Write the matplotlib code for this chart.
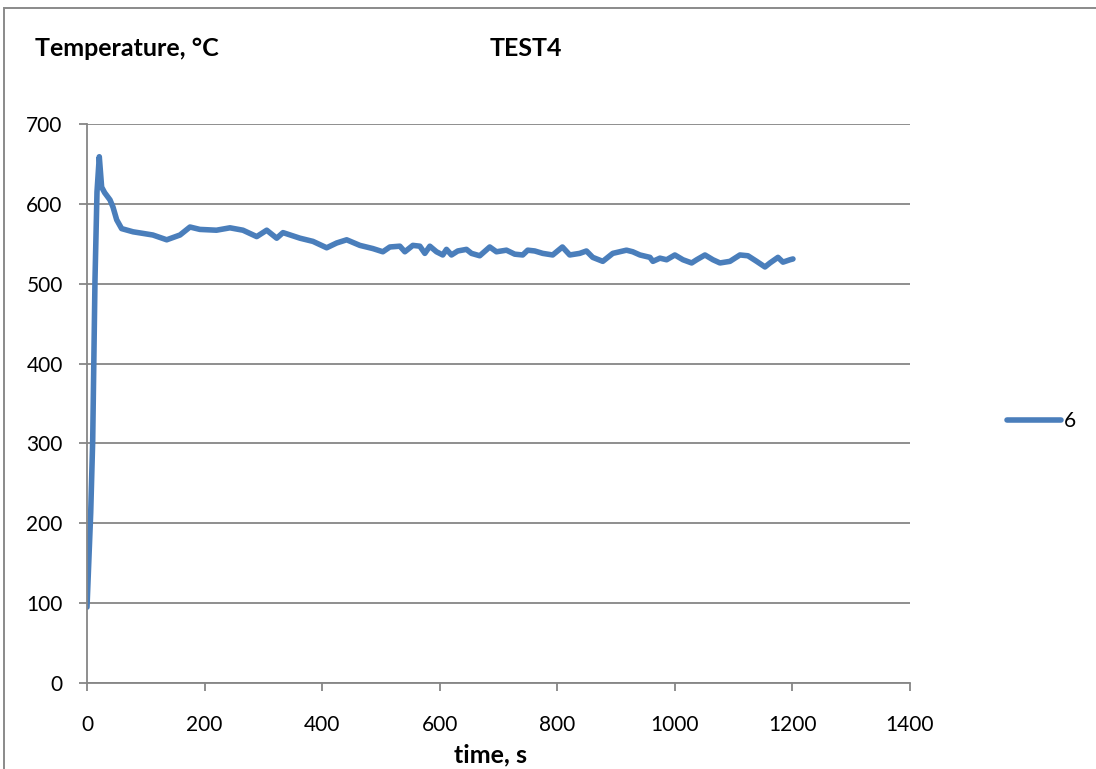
import matplotlib
matplotlib.use("Agg")
import matplotlib.pyplot as plt
from matplotlib.patches import Rectangle

# thermocouple 6, test 4
time_s = [0, 6.3, 9.7, 13.6, 17, 20.9, 24.9, 30, 39.1, 44.2, 50.5, 58.9,
          78.3, 95.3, 112, 135.6, 158.2, 175.2, 192, 220.2, 243.2, 265.3,
          288.7, 305.7, 322.7, 333.4, 362.3, 384.4, 407.7, 424.7, 441.7,
          464.2, 486.3, 503.3, 515.2, 532.2, 540.7, 554.3, 566.2, 574.7,
          583.2, 594.5, 605.2, 611.5, 620, 630.7, 645.5, 654, 668.1, 685.1,
          696.5, 713.5, 727.6, 741.2, 749.7, 761.6, 775.2, 792.2, 808.7,
          821.2, 838.2, 849.6, 860.3, 877.4, 894.4, 917.7, 928.4, 940.6,
          957.6, 962.7, 974.6, 986, 1000, 1013.8, 1028.6, 1037.1, 1051.2,
          1064.8, 1076.7, 1093.7, 1110.7, 1124.3, 1139.1, 1153.3, 1161.8,
          1175.4, 1183.9, 1195.8, 1200.9]
temp_c = [95, 213, 304, 505, 615, 659, 621, 614, 605, 596, 580, 569,
          565, 563, 561, 555, 561, 571, 568, 567, 570, 567,
          559, 567, 557, 564, 557, 553, 545, 551, 555,
          548, 544, 540, 546, 547, 540, 548, 547, 538,
          547, 540, 536, 543, 536, 541, 543, 538, 535, 546,
          540, 542, 537, 536, 542, 541, 538, 536, 546,
          536, 538, 541, 533, 528, 538, 542, 540, 536,
          533, 528, 532, 530, 536, 530, 526, 530, 536,
          530, 526, 528, 536, 535, 528, 521, 526,
          533, 527, 530, 531]

x_ticks = [0, 200, 400, 600, 800, 1000, 1200, 1400]
y_ticks = [0, 100, 200, 300, 400, 500, 600, 700]

plt.rcParams["font.family"] = ["Lato", "DejaVu Sans"]
grid_col = "#868686"

W, H = 1096, 769
fig = plt.figure(figsize=(W / 100, H / 100), dpi=100)
ax = fig.add_axes([87 / W, 1 - 683 / H, 823 / W, 559 / H])

ax.plot(time_s, temp_c, color="#4a7ebb", lw=4, solid_joinstyle="round",
        solid_capstyle="round", label="6")

ax.set_xlim(0, 1400)
ax.set_ylim(0, 700)
ax.set_xticks(x_ticks)
ax.set_yticks(y_ticks)
ax.grid(axis="y", color=grid_col, lw=1.3)
ax.set_axisbelow(True)
for s in ("top", "right"):
    ax.spines[s].set_visible(False)
for s in ("left", "bottom"):
    ax.spines[s].set_color(grid_col)
    ax.spines[s].set_linewidth(1.3)
ax.tick_params(axis="y", direction="out", length=5.5, width=1.3,
               color=grid_col, labelsize=15, pad=12)
ax.tick_params(axis="x", direction="out", length=5.8, width=1.3,
               color=grid_col, labelsize=15, pad=17)

fig.text(35 / W, 1 - 48 / H, "Temperature, °C", fontsize=18,
         fontweight="bold", ha="left", va="center")
fig.text(526 / W, 1 - 48 / H, "TEST4", fontsize=18,
         fontweight="bold", ha="center", va="center")
fig.text(491 / W, 1 - 755 / H, "time, s", fontsize=18,
         fontweight="bold", ha="center", va="center")

fig.legend(loc="center left", bbox_to_anchor=(1007 / W, 1 - 421 / H),
           frameon=False, fontsize=15, handlelength=2.6, handletextpad=0.15,
           borderpad=0, borderaxespad=0)

# chart area frame, cut off at the right and bottom edges
fig.patches.append(Rectangle((4 / W, -0.05), 1.2, 1.05 - 8 / H,
                             transform=fig.transFigure, fill=False,
                             edgecolor="#8a8a8a", lw=1.4))

fig.savefig("out.png", dpi=100)
